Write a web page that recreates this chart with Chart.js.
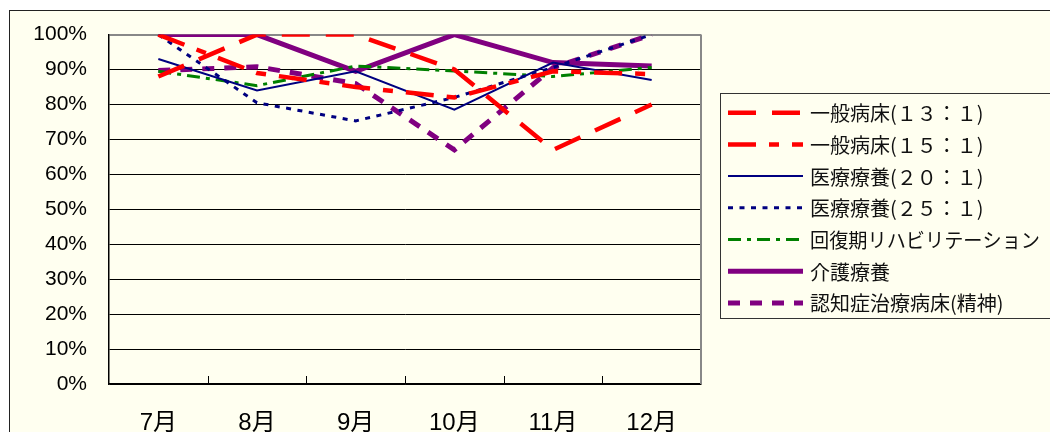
<!DOCTYPE html>
<html>
<head>
<meta charset="utf-8">
<script src="https://cdn.jsdelivr.net/npm/chart.js@4/dist/chart.umd.min.js"></script>
<style>
  html, body { margin: 0; padding: 0; background: #fff; overflow: hidden; }
  #frame { position: absolute; left: 9px; top: 10px; width: 1100px; height: 500px;
           border: 1px solid #222; background: #FFFFF0; }
  #chart { position: absolute; left: 0; top: 0; }
</style>
</head>
<body>
<div id="frame"></div>
<canvas id="chart" width="1050" height="470"></canvas>
<script>
const months = ['7月', '8月', '9月', '10月', '11月', '12月'];

const ippan13 = [88, 100, 100, 90, 67, 80];
const ippan15 = [100, 89, 85, 82, 89.5, 88.7];
const iryo20 = [93, 84, 89.5, 78.5, 92, 87];
const iryo25 = [100, 80.5, 75.3, 82, 90.6, 100];
const kaifuku = [89.5, 85.4, 91, 89.6, 88, 90.6];
const kaigo = [100, 100, 89.5, 100, 92, 91];
const ninchi = [89.7, 90.8, 86, 67, 90.5, 100];

const yTicks = [0, 10, 20, 30, 40, 50, 60, 70, 80, 90, 100];

const axisFont = "'Liberation Sans', 'Noto Sans CJK JP', sans-serif";

// inner tick marks on the category axis + gray plot border on the right
const plotFrame = {
    id: 'plotFrame',
    beforeDatasetsDraw(chart) {
        const { ctx, chartArea: a, scales: { x } } = chart;
        ctx.save();
        ctx.strokeStyle = '#888';
        ctx.lineWidth = 2;
        ctx.beginPath();
        ctx.moveTo(a.right, a.top);
        ctx.lineTo(a.right, a.bottom);
        ctx.stroke();
        ctx.strokeStyle = '#000';
        ctx.lineWidth = 1;
        for (let i = 1; i < months.length; i++) {
            const px = Math.round(x.getPixelForValue(i - 0.5)) + 0.5;
            ctx.beginPath();
            ctx.moveTo(px, a.bottom);
            ctx.lineTo(px, a.bottom - 8);
            ctx.stroke();
        }
        ctx.restore();
    }
};

// boxed legend on the right
const boxLegend = {
    id: 'boxLegend',
    afterDraw(chart) {
        const { ctx } = chart;
        ctx.save();
        ctx.fillStyle = '#FFFFF0';
        ctx.strokeStyle = '#333';
        ctx.lineWidth = 1;
        ctx.fillRect(720.5, 93.5, 340, 225);
        ctx.strokeRect(720.5, 93.5, 340, 225);
        chart.data.datasets.forEach((ds, i) => {
            const y = 112.7 + i * 31.7;
            ctx.strokeStyle = ds.borderColor;
            ctx.lineWidth = ds.borderWidth;
            ctx.setLineDash(ds.borderDash || []);
            ctx.beginPath();
            ctx.moveTo(728, y);
            ctx.lineTo(803, y);
            ctx.stroke();
            ctx.setLineDash([]);
            ctx.fillStyle = '#111';
            ctx.font = "20px 'Noto Sans CJK JP'";
            ctx.textBaseline = 'middle';
            ctx.fillText(ds.label, 810, y + 1, 230);
        });
        ctx.restore();
    }
};

new Chart(document.getElementById('chart'), {
    type: 'line',
    data: {
        labels: months,
        datasets: [
            { label: '一般病床(１３：１)', data: ippan13, borderColor: '#FF0000', borderWidth: 4.5, borderDash: [28, 16] },
            { label: '一般病床(１５：１)', data: ippan15, borderColor: '#FF0000', borderWidth: 4.5, borderDash: [28, 13, 10, 13] },
            { label: '医療療養(２０：１)', data: iryo20, borderColor: '#000080', borderWidth: 2 },
            { label: '医療療養(２５：１)', data: iryo25, borderColor: '#000080', borderWidth: 3, borderDash: [5, 6.5] },
            { label: '回復期リハビリテーション', data: kaifuku, borderColor: '#008000', borderWidth: 3, borderDash: [13, 6, 4, 6] },
            { label: '介護療養', data: kaigo, borderColor: '#800080', borderWidth: 5 },
            { label: '認知症治療病床(精神)', data: ninchi, borderColor: '#800080', borderWidth: 5, borderDash: [12, 10] }
        ].map(d => Object.assign(d, { fill: false, tension: 0, pointRadius: 0, borderCapStyle: 'butt', borderJoinStyle: 'miter' }))
    },
    options: {
        responsive: false,
        animation: false,
        layout: { padding: { top: 30, right: 349, bottom: 0, left: 0 } },
        plugins: {
            legend: { display: false },
            tooltip: { enabled: false }
        },
        scales: {
            x: {
                offset: true,
                grid: { drawOnChartArea: false, drawTicks: false },
                border: { color: '#000', width: 1.5 },
                ticks: { color: '#000', padding: 25, font: { family: axisFont, size: 24 } },
                afterFit(s) { s.height = 86; }
            },
            y: {
                min: 0,
                max: 100,
                afterBuildTicks(s) { s.ticks = yTicks.map(v => ({ value: v })); },
                grid: {
                    drawTicks: false,
                    color: c => c.tick && c.tick.value === 100 ? '#888' : '#000',
                    lineWidth: c => c.tick && c.tick.value === 100 ? 2 : 1
                },
                border: { color: '#000', width: 1.5 },
                ticks: {
                    color: '#000',
                    padding: 22,
                    font: { family: axisFont, size: 21 },
                    callback: v => v + '%'
                },
                afterFit(s) { s.width = 109; }
            }
        }
    },
    plugins: [plotFrame, boxLegend]
});
</script>
</body>
</html>
